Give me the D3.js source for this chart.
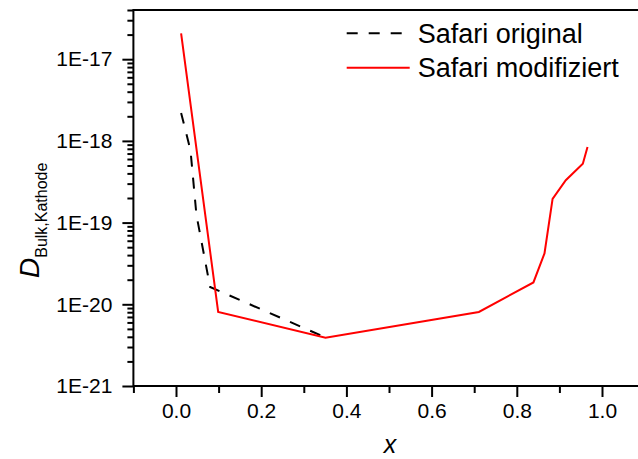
<!DOCTYPE html>
<html>
<head>
<meta charset="utf-8">
<script src="https://cdn.jsdelivr.net/npm/d3@7"></script>
<style>
body { margin: 0; background: #fff; }
text { font-family: "Liberation Sans", Arial, sans-serif; fill: #000; }
</style>
</head>
<body>
<script>
// Werte
var xOriginal = [0.012, 0.034, 0.048, 0.080, 0.350];
var dOriginal = [2.2e-18, 7.7e-19, 1.24e-19, 1.63e-20, 3.95e-21];

var xModifiziert = [0.012, 0.099, 0.351, 0.711, 0.839, 0.865, 0.884, 0.915, 0.955, 0.966];
var dModifiziert = [2.07e-17, 8.05e-21, 3.9e-21, 8.05e-21, 1.85e-20, 4.2e-20, 1.95e-19, 3.3e-19, 5.25e-19, 8.4e-19];

var xTicks = [0.0, 0.2, 0.4, 0.6, 0.8, 1.0];
var xMinorTicks = [-0.1, 0.1, 0.3, 0.5, 0.7, 0.9, 1.1];
var yTicks = [1e-21, 1e-20, 1e-19, 1e-18, 1e-17];
var yTickLabels = ['1E-21', '1E-20', '1E-19', '1E-18', '1E-17'];
var seriesNames = ['Safari original', 'Safari modifiziert'];

var WIDTH = 638;
var HEIGHT = 459;
var LEFT = 133.4, RIGHT = 644.6, TOP = 10, BOTTOM = 386;

var x = d3.scaleLinear().domain([-0.1, 1.1]).range([LEFT, RIGHT]);
var y = d3.scaleLog().domain([1e-21, 4e-17]).range([BOTTOM, TOP]);

// kleine Ticks zwischen den Dekaden: 2..9
var yMinorTicks = [];
yTicks.forEach(function(t){
  for (var k = 2; k <= 9; k++) {
    if (t * k <= 4e-17) yMinorTicks.push(t * k);
  }
});

var svg = d3.select('body')
.append('svg')
.attr('width', WIDTH)
.attr('height', HEIGHT);

// Kurven
var line = d3.line()
.x(function(d){return x(d[0]);})
.y(function(d){return y(d[1]);});

svg.append('path')
.datum(d3.zip(xOriginal, dOriginal))
.attr('d', line)
.attr('fill', 'none')
.attr('stroke', '#000')
.attr('stroke-width', 2)
.attr('stroke-dasharray', '11,11');

svg.append('path')
.datum(d3.zip(xModifiziert, dModifiziert))
.attr('d', line)
.attr('fill', 'none')
.attr('stroke', '#ff0000')
.attr('stroke-width', 2);

// Rahmen (oben, links, unten)
svg.append('rect')
.attr('x', LEFT)
.attr('y', TOP)
.attr('width', RIGHT - LEFT)
.attr('height', BOTTOM - TOP)
.attr('fill', 'none')
.attr('stroke', '#000')
.attr('stroke-width', 2);

// x-Achse
var xAxis = svg.append('g')
.attr('transform', 'translate(0,' + BOTTOM + ')')
.call(d3.axisBottom(x).tickValues(xTicks).tickSize(11).tickPadding(6)
  .tickFormat(d3.format('.1f')));
xAxis.select('.domain').remove();
xAxis.selectAll('line').attr('stroke-width', 2);
xAxis.selectAll('text').attr('font-size', 21).attr('fill', '#000');

svg.append('g')
.attr('transform', 'translate(0,' + BOTTOM + ')')
.call(d3.axisBottom(x).tickValues(xMinorTicks).tickSize(7).tickFormat(''))
.call(function(g){
  g.select('.domain').remove();
  g.selectAll('line').attr('stroke-width', 2);
});

// y-Achse
var yAxis = svg.append('g')
.attr('transform', 'translate(' + LEFT + ',0)')
.call(d3.axisLeft(y).tickValues(yTicks).tickSize(11).tickPadding(10)
  .tickFormat(function(d, i){return yTickLabels[i];}));
yAxis.select('.domain').remove();
yAxis.selectAll('line').attr('stroke-width', 2);
yAxis.selectAll('text').attr('font-size', 21).attr('fill', '#000');

svg.append('g')
.attr('transform', 'translate(' + LEFT + ',0)')
.call(d3.axisLeft(y).tickValues(yMinorTicks).tickSize(6).tickFormat(''))
.call(function(g){
  g.select('.domain').remove();
  g.selectAll('line').attr('stroke-width', 2);
});

// Achsentitel
svg.append('text')
.attr('x', 390)
.attr('y', 453)
.attr('text-anchor', 'middle')
.attr('font-size', 25)
.attr('font-style', 'italic')
.text('x');

var yTitle = svg.append('text')
.attr('transform', 'translate(39,278) rotate(-90)')
.attr('text-anchor', 'start');
yTitle.append('tspan')
.attr('font-size', 28)
.attr('font-style', 'italic')
.text('D');
yTitle.append('tspan')
.attr('font-size', 16)
.attr('dy', 8)
.text('Bulk,Kathode');

// Legende
var legend = svg.selectAll('.legend')
.data(seriesNames)
.enter()
.append('g')
.attr('class', 'legend')
.attr('transform', function(d, i){return 'translate(346.7,' + (33.3 + i * 34.5) + ')';});

legend.append('line')
.attr('x1', 0)
.attr('x2', 63)
.attr('stroke', function(d, i){return i === 0 ? '#000' : '#ff0000';})
.attr('stroke-width', 2)
.attr('stroke-dasharray', function(d, i){return i === 0 ? '11,11' : null;});

legend.append('text')
.attr('x', 71)
.attr('y', 9.5)
.attr('font-size', 27)
.text(function(d){return d;});
</script>
</body>
</html>
